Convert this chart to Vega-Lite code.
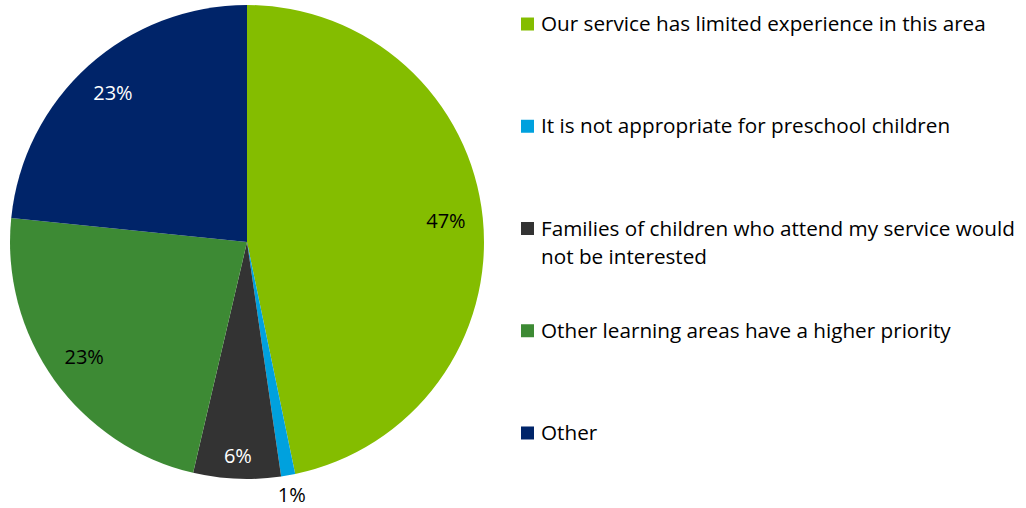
{
  "$schema": "https://vega.github.io/schema/vega-lite/v6.json",
  "background": "white",
  "padding": 5,
  "spacing": 32,
  "bounds": "flush",
  "config": {"view": {"stroke": null}, "font": "Open Sans"},
  "data": {"values": [
    {"order": 1, "category": "Our service has limited experience in this area", "label": "Our service has limited experience in this area", "share": 0.4674},
    {"order": 2, "category": "It is not appropriate for preschool children", "label": "It is not appropriate for preschool children", "share": 0.0096},
    {"order": 3, "category": "Families of children who attend my service would not be interested", "label": ["Families of children who attend my service would", "not be interested"], "share": 0.0595},
    {"order": 4, "category": "Other learning areas have a higher priority", "label": "Other learning areas have a higher priority", "share": 0.2297},
    {"order": 5, "category": "Other", "label": "Other", "share": 0.2338}
  ]},
  "hconcat": [
    {
      "width": 484,
      "height": 474,
      "encoding": {
        "theta": {"field": "share", "type": "quantitative", "stack": true},
        "order": {"field": "order", "type": "ordinal"}
      },
      "layer": [
        {
          "mark": {"type": "arc", "outerRadius": 237},
          "encoding": {
            "color": {
              "field": "category", "type": "nominal",
              "scale": {
                "domain": ["Our service has limited experience in this area", "It is not appropriate for preschool children", "Families of children who attend my service would not be interested", "Other learning areas have a higher priority", "Other"],
                "range": ["#84bd00", "#00a1de", "#333333", "#3d8a34", "#002469"]
              },
              "legend": null
            }
          }
        },
        {
          "mark": {"type": "text", "fontSize": 20, "radius": 200},
          "encoding": {
            "text": {"field": "share", "type": "quantitative", "format": ".0%"},
            "opacity": {"condition": {"test": "datum.order == 1 || datum.order == 4 || datum.order == 5", "value": 1}, "value": 0},
            "color": {"condition": {"test": "datum.order == 5", "value": "white"}, "value": "black"}
          }
        },
        {
          "mark": {"type": "text", "fontSize": 20, "radius": 215, "color": "white"},
          "encoding": {
            "text": {"field": "share", "type": "quantitative", "format": ".0%"},
            "opacity": {"condition": {"test": "datum.order == 3", "value": 1}, "value": 0}
          }
        },
        {
          "mark": {"type": "text", "fontSize": 20, "radius": 258, "color": "black"},
          "encoding": {
            "text": {"field": "share", "type": "quantitative", "format": ".0%"},
            "opacity": {"condition": {"test": "datum.order == 2", "value": 1}, "value": 0}
          }
        }
      ]
    },
    {
      "width": 490,
      "height": 447,
      "encoding": {
        "y": {"field": "category", "type": "nominal", "sort": {"field": "order"}, "scale": {"type": "point", "padding": 0.186}, "axis": null}
      },
      "layer": [
        {
          "mark": {"type": "square", "size": 169, "opacity": 1, "filled": true},
          "encoding": {
            "x": {"value": 6.5},
            "color": {"field": "category", "type": "nominal", "legend": null}
          }
        },
        {
          "mark": {"type": "text", "align": "left", "baseline": "alphabetic", "dy": 7, "fontSize": 20.7, "lineHeight": 28, "color": "black"},
          "encoding": {
            "x": {"value": 20},
            "text": {"field": "label"}
          }
        }
      ]
    }
  ]
}
